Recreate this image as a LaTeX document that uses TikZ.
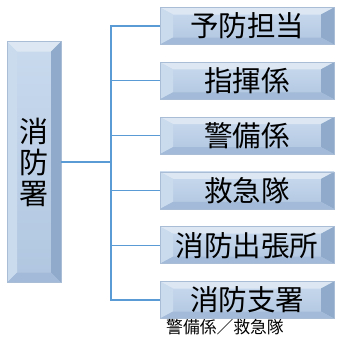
\documentclass[tikz,border=0pt]{standalone}
\usepackage{fontspec}
\newfontfamily\jp{Noto Sans CJK JP}
\usetikzlibrary{calc}
\definecolor{facetop}{HTML}{C9DAEE}
\definecolor{facebot}{HTML}{B0C6E0}
\definecolor{bvtop}{HTML}{DCE7F3}
\definecolor{bvleft}{HTML}{CBDBEE}
\definecolor{bvright}{HTML}{8FAACB}
\definecolor{bvbot}{HTML}{A3BBD8}
\definecolor{edge}{HTML}{A9BDD6}
\definecolor{link}{HTML}{5B9BD5}
\tikzset{
  bevbox/.style n args={4}{rectangle, inner sep=0pt, minimum width=#1, minimum height=#2,
    draw=edge, line width=0.6pt, top color=facetop, bottom color=facebot,
    path picture={
      \coordinate (pnw) at (path picture bounding box.north west);
      \coordinate (pne) at (path picture bounding box.north east);
      \coordinate (psw) at (path picture bounding box.south west);
      \coordinate (pse) at (path picture bounding box.south east);
      \fill[bvtop] (pnw) -- (pne) -- ($(pne)+(-#3,-#4)$) -- ($(pnw)+(#3,-#4)$) -- cycle;
      \fill[bvleft] (pnw) -- (psw) -- ($(psw)+(#3,#4)$) -- ($(pnw)+(#3,-#4)$) -- cycle;
      \fill[bvright] (pne) -- (pse) -- ($(pse)+(-#3,#4)$) -- ($(pne)+(-#3,-#4)$) -- cycle;
      \fill[bvbot] (psw) -- (pse) -- ($(pse)+(-#3,#4)$) -- ($(psw)+(#3,#4)$) -- cycle;
    }},
  rbox/.style={bevbox={174pt}{37pt}{13pt}{7pt}, font=\jp\fontsize{28.5}{28.5}\selectfont},
  lbox/.style={bevbox={54pt}{241pt}{10pt}{10pt}, align=center, font=\jp\fontsize{29}{31}\selectfont},
  conn/.style={draw=link, line width=1.3pt},
  captext/.style={font=\jp\fontsize{16.8}{16.8}\selectfont}
}
\begin{document}
\begin{tikzpicture}[x=1pt,y=-1pt]
\useasboundingbox (0,0) rectangle (340,346);
\node[lbox] (L) at (34,162) {消\\防\\署};
\node[rbox] (b1) at (247,26) {予防担当};
\node[rbox] (b2) at (247,80.8) {指揮係};
\node[rbox] (b3) at (247,135.6) {警備係};
\node[rbox] (b4) at (247,190.4) {救急隊};
\node[rbox] (b5) at (247,245.2) {消防出張所};
\node[rbox] (b6) at (247,300) {消防支署};
\node[captext] (c) at (225,327) {警備係／救急隊};
\coordinate (tr) at (111,162);
\draw[conn] (L.east) -- (tr);
\draw[conn] (b1.west) -- (b1.west -| tr) -- (b6.west -| tr) -- (b6.west);
\draw[conn] (b2.west) -- (b2.west -| tr);
\draw[conn] (b3.west) -- (b3.west -| tr);
\draw[conn] (b4.west) -- (b4.west -| tr);
\draw[conn] (b5.west) -- (b5.west -| tr);
\end{tikzpicture}
\end{document}
